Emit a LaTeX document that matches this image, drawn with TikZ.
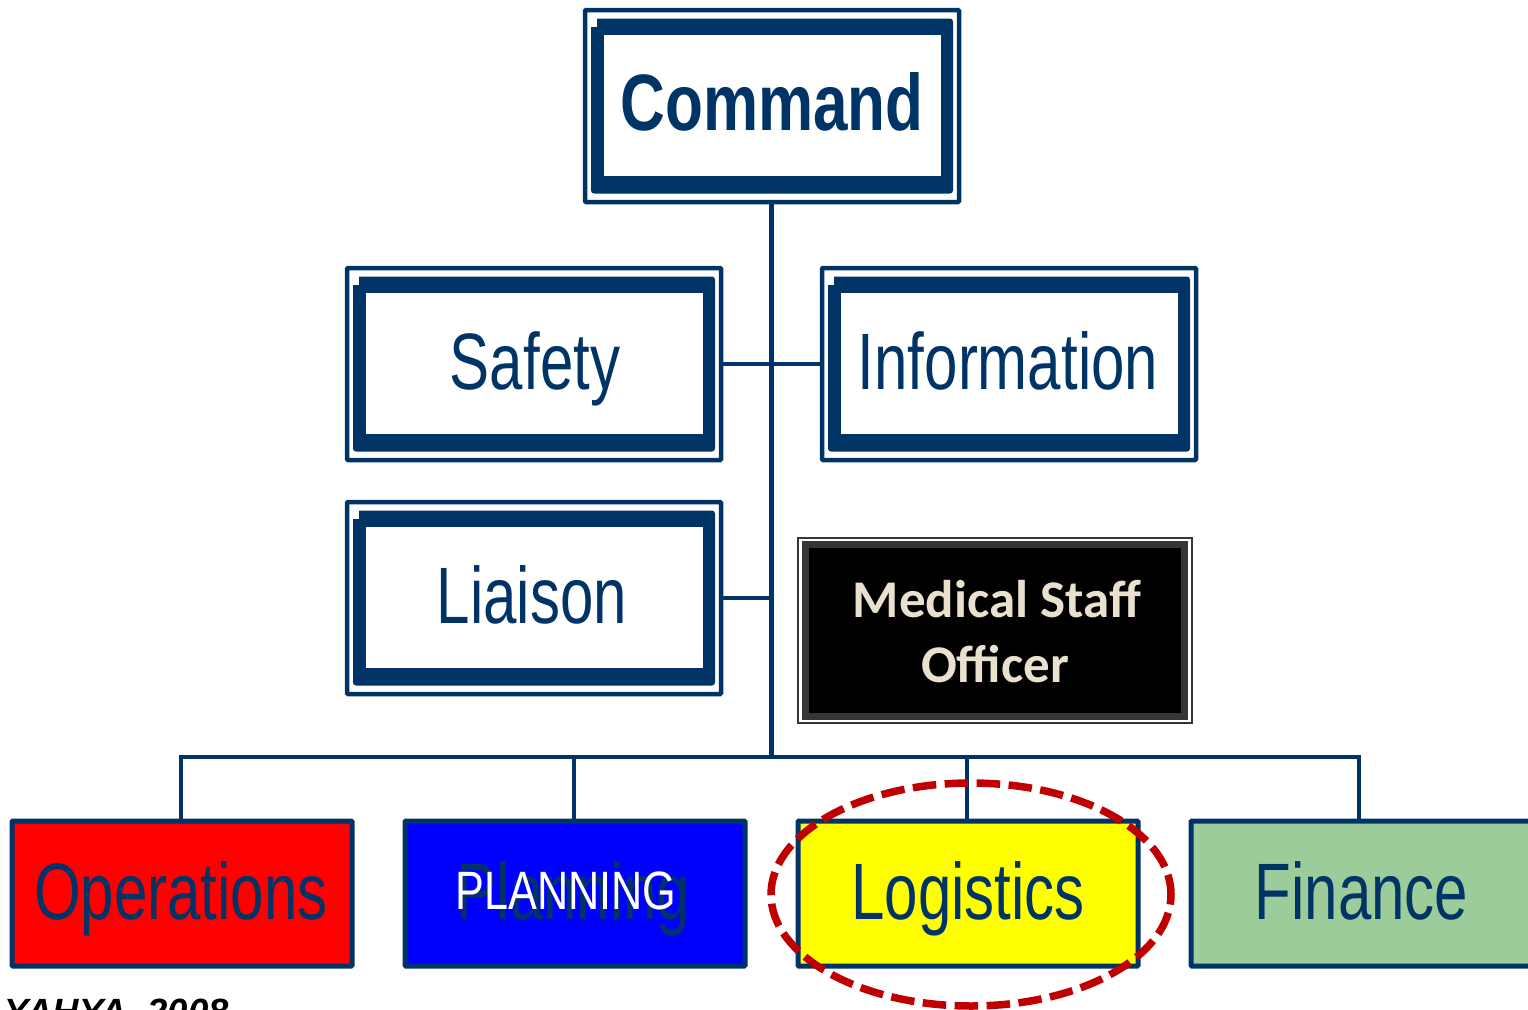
\documentclass[tikz,border=0pt]{standalone}
\usepackage{fontspec}
\setmainfont{Liberation Sans}
\newfontfamily\condreg[FakeStretch=0.75]{Liberation Sans}
\newfontfamily\condbold[FakeStretch=0.775]{Liberation Sans Bold}
\newfontfamily\condcaps[FakeStretch=0.80]{Liberation Sans}
\newfontfamily\calib{Carlito}
\definecolor{navy}{HTML}{003366}
\definecolor{medtext}{HTML}{E9E1CE}
\definecolor{medframe}{HTML}{363636}
\definecolor{dashred}{HTML}{C00000}
\definecolor{pureyellow}{RGB}{255,255,0}
\definecolor{purered}{RGB}{255,0,0}
\definecolor{pureblue}{RGB}{0,0,255}
\definecolor{sage}{RGB}{155,204,153}
\usetikzlibrary{shapes.geometric}
\tikzset{
  every node/.style={inner sep=0pt,outer sep=0pt},
  outerbox/.style={draw=navy,fill=white,line width=4.5pt,rounded corners=1pt,minimum width=374pt,minimum height=192pt},
  innerbox/.style={fill=white,minimum width=337pt,minimum height=141pt},
  bigtext/.style={anchor=base,text=navy,font=\fontsize{80}{80}\condreg},
  medfont/.style={anchor=base,text=medtext,font=\fontsize{53}{53}\calib\bfseries},
  unitbox/.style={draw=navy,line width=5pt,rounded corners=1pt,minimum width=340pt,minimum height=145pt},
  link/.style={draw=navy,line width=4.5pt},
  ring/.style={draw=dashred,line width=7.5pt,dash pattern=on 23.5pt off 8.5pt,dash phase=3.5pt,ellipse,minimum width=400pt,minimum height=223pt},
}
\newcommand{\dblbox}[3]{%
  \node[outerbox] (#1) at (#2,#3) {};
  \begin{scope}[shift={(#2,#3)}]
    \fill[navy] (-175,-87.5) [rounded corners=3pt] -- (181,-87.5) -- (181,87.5) -- (-181,87.5) [sharp corners] -- (-181,-79) -- (-175,-79) -- cycle;
    \node[innerbox] (#1in) at (0,-0.5) {};
  \end{scope}}
\begin{document}
\begin{tikzpicture}[x=1pt,y=-1pt]
\clip (0,0) rectangle (1528,1009);
\fill[white] (0,0) rectangle (1528,1009);

% command and staff boxes
\dblbox{cmd}{772}{106}
\dblbox{safety}{534}{364}
\dblbox{info}{1009}{364}
\dblbox{liaison}{534}{598}
\node[anchor=base,text=navy,font=\fontsize{80}{80}\condbold] (cmdt) at (772,130) {Command};
\node[bigtext] (safetyt) at (535,389) {Safety};
\node[bigtext] (infot) at (1008,389) {Information};
\node[bigtext] (liaisont) at (532,623) {Liaison};

% medical staff officer
\node[draw=medframe,line width=1.5pt,fill=white,minimum width=394pt,minimum height=185pt] (med) at (995,630.5) {};
\node[draw=medframe,line width=7pt,fill=black,minimum width=379pt,minimum height=172pt] (medin) at (995,630.5) {};
\node[medfont] (medt1) at (997,617) {Medical Staff};
\node[medfont] (medt2) at (995,682) {Officer};

% section boxes
\node[unitbox,fill=purered] (ops) at (182,893.5) {};
\node[unitbox,fill=pureblue] (plan) at (575,893.5) {};
\node[unitbox,fill=pureyellow] (log) at (968,893.5) {};
\node[unitbox,fill=sage] (fin) at (1361,893.5) {};
\node[bigtext] (opst) at (181,919) {Operations};
\node[bigtext] (plant) at (573.5,919) {Planning};
\node[anchor=base,text=white,font=\fontsize{54}{54}\condcaps] (plant2) at (566,909) {PLANNING};
\node[bigtext] (logt) at (968,919) {Logistics};
\node[bigtext] (fint) at (1361.5,919) {Finance};

% connectors
\coordinate (bus) at (771.5,757);
\coordinate (busL) at (181,757);
\coordinate (busR) at (1359,757);
\coordinate (busP) at (574,757);
\coordinate (busG) at (967,757);
\coordinate (liaisonJ) at (771.5,598);
\draw[link] (cmd.south -| bus) -- (bus);
\draw[link] (safety.east) -- (info.west);
\draw[link] (liaison.east) -- (liaisonJ);
\draw[link,line cap=rect] (busL) -- (busR);
\draw[link] (busL) -- (busL |- ops.north);
\draw[link] (busP) -- (busP |- plan.north);
\draw[link] (busG) -- (busG |- log.north);
\draw[link] (busR) -- (busR |- fin.north);

% ring
\node[ring] (ringn) at (971,894.5) {};

% source
\node[anchor=base west,font=\fontsize{36.5}{36.5}\selectfont\bfseries\itshape] (src) at (5,1024) {YAHYA, 2008};
\end{tikzpicture}
\end{document}
